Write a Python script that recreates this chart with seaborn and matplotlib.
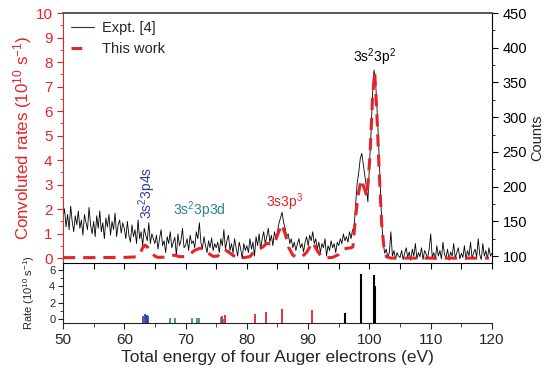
import numpy as np
import matplotlib
matplotlib.use("Agg")
import matplotlib.pyplot as plt
import seaborn as sns
from matplotlib.lines import Line2D
from matplotlib.ticker import MultipleLocator

# ---------------- data ----------------
expt_start, expt_step = 50.0, 0.25
expt_counts = [
    155,168,142,160,138,172,150,135,158,145,165,140,152,130,160,148,138,170,145,132,
    150,128,158,140,165,135,148,125,155,142,160,130,150,138,162,128,145,152,133,148,
    140,125,150,130,120,145,128,138,118,152,125,135,115,140,130,122,148,118,132,125,
    118,130,110,125,138,115,122,105,128,118,135,112,120,127,100,132,115,122,140,112,
    115,125,108,130,118,122,112,135,125,148,120,110,128,115,105,122,112,126,108,118,
    112,120,105,125,115,138,110,122,130,108,118,104,125,112,100,120,110,96,118,108,
    115,105,125,110,120,100,128,115,132,110,125,135,118,128,140,120,130,115,135,125,
    135,148,155,163,148,140,128,132,118,125,112,120,108,118,125,112,118,106,120,128,
    115,130,122,135,118,125,110,120,105,118,112,125,100,115,108,122,112,118,105,120,
    115,125,118,132,122,128,120,135,125,138,140,175,205,220,240,248,232,215,200,178,
    230,275,330,368,352,310,262,205,150,118,104,110,98,105,135,100,108,96,105,100,
    98,108,95,104,112,98,106,94,110,100,118,96,105,99,112,95,108,103,97,110,
    132,98,105,95,115,100,108,96,120,102,98,110,94,106,100,118,97,105,112,96,
    104,98,115,95,108,100,120,96,105,110,98,125,102,95,118,100,108,96,112,100,
    104,
]
expt_energy = expt_start + expt_step * np.arange(len(expt_counts))

conv_energy = [50, 55, 60, 62, 62.5, 63, 63.4, 63.8, 64.3, 65, 65.5, 66.5, 67.5, 68.2,
               69, 70, 70.8, 71.5, 72.3, 73, 73.7, 74.5, 75.2, 75.8, 76.4, 77, 77.8,
               78.5, 79.5, 80.5, 81.3, 82, 82.6, 83.2, 83.8, 84.5, 85, 85.7, 86.3,
               86.8, 87.5, 88.2, 89, 89.8, 90.7, 91.5, 92.2, 93, 94, 95, 95.7, 96.3,
               97.0, 97.3, 97.6, 98.1, 98.65, 99.1, 99.6, 100.1, 100.5, 100.85, 101.2,
               101.6, 102, 102.4, 102.8, 103.5, 110, 119.5]
conv_rate = [0.02, 0.02, 0.03, 0.05, 0.15, 0.42, 0.53, 0.45, 0.25, 0.08, 0.03, 0.04, 0.1,
             0.12, 0.06, 0.06, 0.18, 0.32, 0.4, 0.35, 0.2, 0.07, 0.08, 0.22, 0.35, 0.25,
             0.1, 0.05, 0.02, 0.06, 0.3, 0.38, 0.45, 0.6, 0.58, 0.6, 0.95, 1.38, 0.95,
             0.45, 0.12, 0.04, 0.05, 0.25, 0.65, 0.3, 0.05, 0.01, 0.03, 0.15, 0.35, 0.4,
             0.42, 0.46, 1.3, 2.5, 3.2, 2.9, 2.5, 4.2, 6.5, 7.6, 6.0, 3.5, 1.4, 0.35,
             0.05, 0.0, 0.0, 0.0]

blue_E = [63.0, 63.3, 63.5, 63.7, 63.9]
blue_h = [0.4, 0.55, 0.5, 0.45, 0.35]
teal_E = [67.5, 68.3, 71.1, 71.9, 72.2, 75.8, 76.1]
teal_h = [0.12, 0.12, 0.15, 0.1, 0.15, 0.2, 0.05]
red_E = [75.9, 76.5, 81.3, 83.2, 85.7, 90.7]
red_h = [0.3, 0.5, 0.6, 0.85, 1.2, 1.15]
black_E = [96.0, 98.65, 100.7, 100.9]
black_h = [0.7, 5.5, 5.35, 4.0]

# ---------------- style ----------------
sns.set_style("ticks")
plt.rcParams['font.family'] = ['Liberation Sans', 'DejaVu Sans']
plt.rcParams['mathtext.fontset'] = 'custom'
plt.rcParams['mathtext.rm'] = 'Liberation Sans'
plt.rcParams['mathtext.it'] = 'Liberation Sans:italic'

RED = '#e3242b'
BLUE = '#2f3da3'
TEAL = '#2a8585'

fig = plt.figure(figsize=(5.44, 3.78), dpi=100)
ax = fig.add_axes([0.1158, 0.3042, 0.7886, 0.6614])
ax2 = ax.twinx()
ax3 = fig.add_axes([0.1158, 0.1455, 0.7886, 0.1587])

# experimental counts on right axis
sns.lineplot(x=expt_energy, y=expt_counts, ax=ax2, color='black', lw=0.6)
# convoluted rates on left axis
sns.lineplot(x=conv_energy, y=conv_rate, ax=ax, color=RED, lw=2.2)
ax.lines[-1].set_dashes([4, 2.6])

ax.set_zorder(ax2.get_zorder() + 1)
ax.patch.set_visible(False)

ax.set_xlim(50, 120)
ax.set_ylim(-0.2, 10)
ax2.set_ylim(90, 450)
ax3.set_xlim(50, 120)
ax3.set_ylim(-0.5, 6.85)

# spines
ax.spines['left'].set_color(RED)
ax.spines['right'].set_visible(False)
ax.spines['top'].set_color('#555555')
ax.spines['top'].set_linewidth(1.4)
ax.spines['bottom'].set_color('black')
ax2.spines['left'].set_visible(False)
ax2.spines['top'].set_visible(False)
ax2.spines['bottom'].set_visible(False)
ax2.spines['right'].set_color('black')
ax3.spines['top'].set_visible(False)
ax3.spines['right'].set_visible(False)

# ticks upper
ax.xaxis.set_major_locator(MultipleLocator(5))
ax.tick_params(axis='x', direction='out', length=4, labelbottom=False, color='black')
ax.yaxis.set_major_locator(MultipleLocator(1))
ax.yaxis.set_minor_locator(MultipleLocator(0.5))
ax.tick_params(axis='y', which='both', colors=RED, direction='out', labelsize=11)
ax.tick_params(axis='y', which='major', length=4)
ax.tick_params(axis='y', which='minor', length=2.5)
ax.set_ylabel('Convoluted rates (10$^{10}$ s$^{-1}$)', color=RED, fontsize=12.2, labelpad=1)
ax.set_xlabel('')

ax2.yaxis.set_major_locator(MultipleLocator(50))
ax2.yaxis.set_minor_locator(MultipleLocator(25))
ax2.tick_params(axis='y', which='both', direction='out', labelsize=10.5, colors='black')
ax2.tick_params(axis='y', which='major', length=4)
ax2.tick_params(axis='y', which='minor', length=2.5)
ax2.set_ylabel('Counts', fontsize=10.5, labelpad=2)

# lower stick panel
for E, h, c, lw in [(blue_E, blue_h, BLUE, 1.2), (teal_E, teal_h, TEAL, 1.2),
                    (red_E, red_h, RED, 1.3), (black_E, black_h, 'black', 1.5)]:
    ax3.vlines(E, ymin=-0.5, ymax=h, colors=c, lw=lw)

ax3.xaxis.set_major_locator(MultipleLocator(10))
ax3.xaxis.set_minor_locator(MultipleLocator(5))
ax3.yaxis.set_major_locator(MultipleLocator(2))
ax3.yaxis.set_minor_locator(MultipleLocator(1))
ax3.tick_params(axis='x', which='major', direction='out', length=4, labelsize=11)
ax3.tick_params(axis='x', which='minor', direction='out', length=3)
ax3.tick_params(axis='y', which='major', direction='out', length=3.5, labelsize=8, pad=2)
ax3.tick_params(axis='y', which='minor', direction='out', length=2)
ax3.set_ylabel('Rate (10$^{10}$ s$^{-1}$)', fontsize=8, labelpad=9)
ax3.set_xlabel('Total energy of four Auger electrons (eV)', fontsize=12.5, labelpad=2)

# annotations
ax.text(63.8, 2.65, '3s$^2$3p4s', color=BLUE, fontsize=10, rotation=90,
        ha='center', va='center')
ax.text(72.3, 1.95, '3s$^2$3p3d', color=TEAL, fontsize=10, ha='center', va='center')
ax.text(86.2, 2.3, '3s3p$^3$', color=RED, fontsize=10, ha='center', va='center')
ax.text(100.8, 8.2, '3s$^2$3p$^2$', color='black', fontsize=10, ha='center', va='center')

# legend
handles = [Line2D([], [], color='#333333', lw=0.8),
           Line2D([], [], color=RED, lw=2.2, dashes=[3.5, 10])]
ax.legend(handles, ['Expt. [4]', 'This work'], loc='upper left',
          bbox_to_anchor=(0.012, 0.978), frameon=False, fontsize=10.5,
          handlelength=1.6, handletextpad=0.5, labelspacing=0.45,
          borderaxespad=0, borderpad=0.2)

fig.savefig('out.png', dpi=100)
